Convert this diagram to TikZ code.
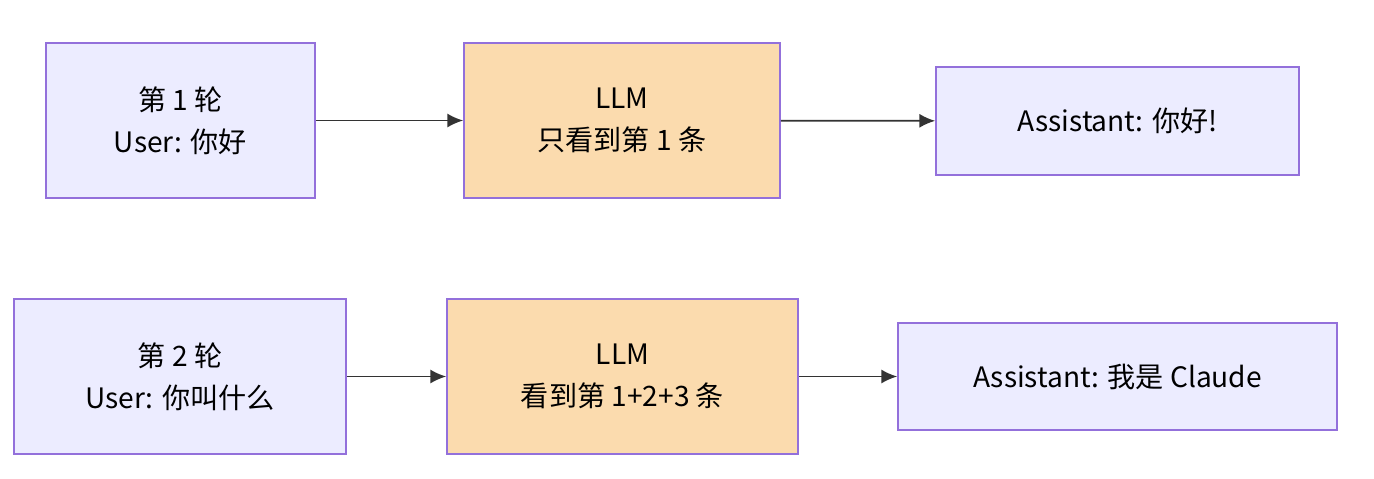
\documentclass[tikz,border=0pt]{standalone}
\usepackage{fontspec}
\setmainfont{Noto Sans CJK SC}
\usetikzlibrary{arrows.meta}
\definecolor{boxfill}{HTML}{ECECFF}
\definecolor{boxline}{HTML}{9370DB}
\definecolor{llmfill}{HTML}{FBDBAE}
\definecolor{llmline}{HTML}{9370DB}
\definecolor{arrowcol}{HTML}{333333}
\tikzset{
  turn/.style={rectangle, draw=boxline, fill=boxfill, line width=1pt, align=center, font=\fontsize{16}{24}\selectfont, inner sep=0pt},
  llm/.style={turn, draw=llmline, fill=llmfill},
  flow/.style={-{Latex[length=9pt,width=8pt]}, draw=arrowcol, line width=1pt}
}
\begin{document}
\begin{tikzpicture}[x=0.02cm, y=-0.02cm]
    \useasboundingbox (0,0) rectangle (1374,478);
    % Round 1
    \node[turn, minimum width=5.38cm, minimum height=3.1cm](user1) at (180.5,120.5)
    {第 1 轮\\User: 你好};
    \node[llm, minimum width=6.32cm, minimum height=3.1cm](llm1) at (622,120.5)
    {LLM\\只看到第 1 条};
    \node[turn, minimum width=7.26cm, minimum height=2.16cm](reply1) at (1117.5,121)
    {Assistant: 你好!};

    % Round 2
    \node[turn, minimum width=6.64cm, minimum height=3.1cm](user2) at (180,376.5)
    {第 2 轮\\User: 你叫什么};
    \node[llm, minimum width=7.02cm, minimum height=3.1cm](llm2) at (622.5,376.5)
    {LLM\\看到第 1+2+3 条};
    \node[turn, minimum width=8.78cm, minimum height=2.14cm](reply2) at (1117.5,376.5)
    {Assistant: 我是 Claude};

    % Arrows
    \draw[flow] (user1) -- (llm1);
    \draw[flow] (llm1) -- (reply1);
    \draw[flow] (user2) -- (llm2);
    \draw[flow] (llm2) -- (reply2);
\end{tikzpicture}
\end{document}
